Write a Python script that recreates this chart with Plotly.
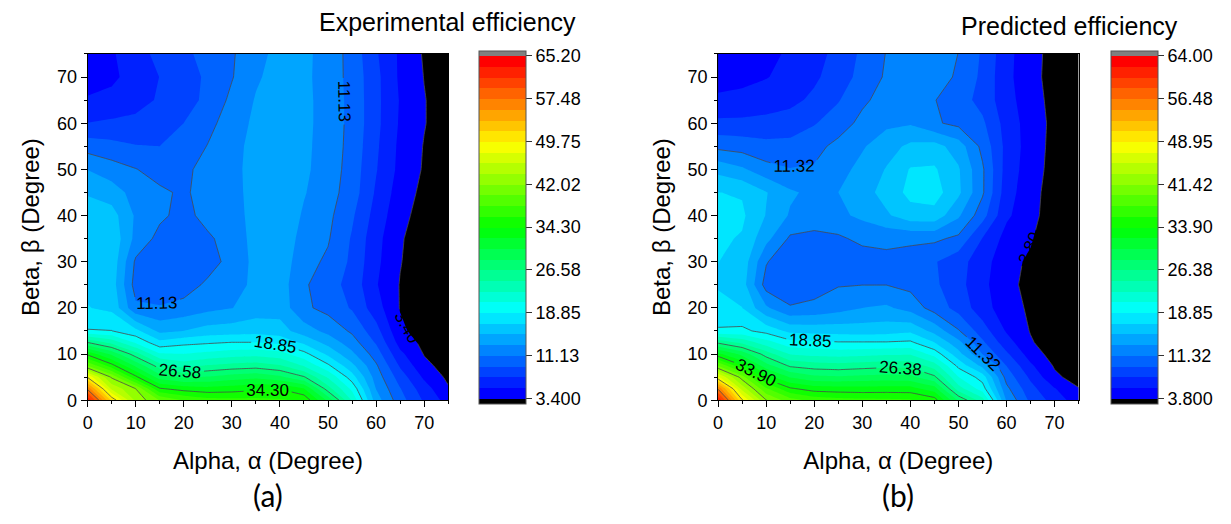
import plotly.graph_objects as go

# ---------------- data ----------------
alpha = [0, 5, 10, 15, 20, 25, 30, 35, 40, 45, 50, 55, 60, 65, 70, 75]
beta = [0, 2.5, 5, 7.5, 10, 12.5, 15, 20, 25, 30, 35, 40, 45, 50, 55, 60, 65, 70, 75]

# rows follow beta, columns follow alpha
experimental = [
    [63.0, 51.2, 43.5, 40.0, 38.0, 37.0, 36.8, 36.8, 36.5, 35.8, 30.0, 22.5, 14.0, 10.0, 7.0, 4.5],
    [57.0, 45.5, 42.0, 34.5, 33.5, 33.0, 33.3, 33.8, 34.2, 32.5, 25.5, 20.3, 13.0, 9.3, 6.2, 3.6],
    [49.5, 41.7, 34.8, 29.5, 28.2, 28.7, 29.5, 30.0, 29.0, 26.8, 22.5, 17.8, 12.2, 8.3, 5.0, 3.0],
    [40.0, 35.0, 30.0, 25.5, 23.8, 24.8, 25.3, 25.6, 24.8, 22.5, 19.2, 15.5, 11.4, 7.0, 3.9, 2.6],
    [33.8, 30.0, 25.5, 21.0, 20.8, 21.3, 21.8, 22.0, 21.5, 19.5, 16.5, 13.5, 10.2, 5.8, 3.3, 2.3],
    [26.6, 24.0, 20.5, 17.5, 18.3, 18.6, 18.9, 18.9, 18.4, 16.5, 14.3, 12.0, 9.0, 4.6, 2.9, 2.1],
    [19.0, 18.9, 17.5, 14.5, 15.0, 15.8, 16.0, 16.2, 15.8, 14.0, 12.5, 10.8, 8.0, 3.8, 2.5, 2.0],
    [17.0, 16.5, 11.5, 11.3, 11.8, 12.5, 13.0, 14.0, 14.2, 11.5, 10.5, 9.0, 6.2, 3.3, 2.0, 1.8],
    [16.5, 16.0, 10.3, 9.8, 10.2, 11.5, 12.3, 13.5, 14.0, 11.4, 10.0, 8.5, 5.5, 3.3, 2.0, 1.7],
    [16.5, 16.3, 10.8, 9.7, 9.8, 10.3, 11.8, 13.6, 14.3, 11.8, 10.8, 8.8, 5.8, 3.5, 2.2, 1.7],
    [16.5, 16.5, 12.5, 10.5, 10.0, 10.8, 12.0, 13.7, 14.5, 12.3, 11.3, 9.0, 6.0, 3.6, 2.4, 1.8],
    [16.0, 15.8, 12.8, 11.5, 10.5, 11.8, 12.2, 13.8, 14.6, 12.8, 11.6, 9.5, 6.5, 4.0, 2.6, 1.9],
    [14.8, 14.0, 12.3, 11.5, 10.8, 12.0, 12.3, 13.9, 14.6, 13.2, 11.9, 10.2, 7.0, 4.4, 2.9, 2.0],
    [13.0, 12.0, 11.2, 10.3, 10.7, 11.8, 12.4, 13.9, 14.6, 13.4, 12.2, 10.3, 7.4, 4.8, 3.2, 2.1],
    [10.3, 9.8, 9.3, 9.2, 10.0, 11.2, 12.3, 13.8, 14.5, 13.5, 12.2, 10.5, 7.6, 4.9, 3.3, 2.2],
    [7.3, 7.6, 7.8, 8.3, 9.2, 10.6, 12.0, 13.5, 14.3, 13.6, 12.2, 10.6, 7.8, 5.1, 3.5, 2.3],
    [5.5, 5.8, 6.5, 7.5, 8.5, 9.6, 11.6, 13.2, 14.0, 13.6, 12.2, 10.6, 7.8, 5.2, 3.5, 2.3],
    [4.6, 5.0, 6.0, 7.3, 8.4, 9.5, 11.0, 12.8, 13.8, 13.5, 12.2, 10.5, 7.8, 5.0, 3.35, 2.2],
    [4.3, 5.1, 6.5, 7.8, 8.8, 9.8, 10.9, 12.5, 13.6, 13.5, 12.3, 10.4, 7.5, 5.0, 3.2, 2.0],
]

predicted = [
    [62.0, 49.2, 41.5, 38.5, 37.0, 36.5, 36.3, 36.2, 36.0, 34.8, 28.0, 23.5, 13.0, 9.0, 6.8, 4.6],
    [56.2, 44.5, 38.0, 34.2, 33.0, 32.8, 32.7, 32.8, 32.8, 31.0, 23.5, 19.8, 11.8, 8.2, 5.8, 3.9],
    [47.5, 40.5, 33.0, 30.0, 28.7, 28.5, 28.8, 29.0, 28.8, 26.8, 20.8, 18.0, 10.6, 7.2, 4.2, 3.0],
    [39.5, 34.0, 29.0, 26.0, 25.4, 25.2, 25.5, 25.8, 25.8, 23.5, 18.3, 14.5, 9.4, 6.0, 3.6, 2.7],
    [32.5, 29.5, 25.5, 22.5, 22.0, 21.8, 22.0, 22.3, 22.4, 20.0, 15.8, 11.3, 7.9, 4.8, 3.0, 2.3],
    [26.0, 24.0, 21.5, 19.5, 19.3, 19.0, 19.0, 19.0, 19.2, 17.0, 13.8, 9.8, 6.5, 4.0, 2.7, 2.1],
    [19.1, 19.3, 18.2, 16.5, 16.3, 16.2, 16.1, 16.2, 16.6, 14.5, 11.5, 8.5, 5.5, 3.7, 2.5, 2.0],
    [17.5, 17.0, 13.5, 11.5, 11.8, 12.5, 13.2, 13.5, 12.5, 10.5, 8.8, 6.5, 4.6, 3.5, 2.3, 1.8],
    [16.8, 16.0, 10.5, 10.0, 10.5, 11.2, 11.3, 11.3, 10.8, 9.8, 8.2, 6.2, 4.3, 3.3, 2.1, 1.7],
    [17.0, 16.3, 11.5, 9.6, 9.5, 9.8, 10.3, 10.8, 10.5, 9.6, 8.3, 6.5, 4.4, 3.5, 2.1, 1.7],
    [17.3, 16.8, 13.8, 11.0, 10.8, 11.0, 11.8, 11.8, 11.7, 11.7, 10.9, 7.5, 5.0, 4.0, 2.3, 1.8],
    [17.5, 17.3, 15.0, 13.0, 12.3, 12.8, 13.6, 14.8, 16.2, 16.3, 13.5, 10.2, 6.0, 4.5, 2.6, 1.9],
    [17.0, 16.8, 15.2, 13.5, 12.7, 13.2, 14.3, 15.8, 17.5, 17.8, 15.5, 11.6, 6.5, 4.5, 2.9, 2.0],
    [14.5, 13.5, 12.0, 11.4, 11.5, 12.5, 13.8, 15.2, 17.1, 17.2, 15.3, 11.6, 6.8, 4.7, 3.1, 2.1],
    [10.8, 10.5, 10.0, 10.0, 10.8, 11.8, 13.0, 14.3, 15.5, 15.8, 14.2, 10.8, 7.0, 4.8, 3.2, 2.2],
    [8.0, 8.0, 8.2, 8.5, 9.3, 10.5, 11.8, 12.8, 13.0, 11.6, 10.8, 9.8, 6.8, 4.8, 3.3, 2.2],
    [6.0, 6.2, 6.5, 7.0, 8.0, 9.3, 11.0, 12.0, 12.0, 11.4, 10.3, 8.8, 6.4, 4.6, 3.2, 2.2],
    [5.0, 5.2, 5.6, 6.2, 7.2, 8.6, 10.0, 11.6, 12.2, 12.0, 11.1, 9.0, 6.2, 4.4, 3.1, 2.1],
    [4.6, 4.9, 5.3, 5.9, 6.8, 8.2, 9.8, 11.4, 12.3, 12.2, 11.3, 9.2, 6.3, 4.4, 3.2, 2.2],
]

exp_range = [3.4, 65.2]
exp_tickvals = [3.4, 11.125, 18.85, 26.575, 34.3, 42.025, 49.75, 57.475, 65.2]
exp_ticktext = ["3.400", "11.13", "18.85", "26.58", "34.30", "42.02", "49.75", "57.48", "65.20"]

pred_range = [3.8, 64.0]
pred_tickvals = [3.8, 11.325, 18.85, 26.375, 33.9, 41.425, 48.95, 56.475, 64.0]
pred_ticktext = ["3.800", "11.32", "18.85", "26.38", "33.90", "41.42", "48.95", "56.48", "64.00"]

# ---------------- style ----------------
W, H = 1231, 524
N_BANDS = 32
FONT = "Liberation Sans"


def rainbow(p):
    stops = [(0.0, (0, 0, 255)), (0.25, (0, 255, 255)), (0.5, (0, 255, 0)),
             (0.75, (255, 255, 0)), (1.0, (255, 0, 0))]
    for i in range(len(stops) - 1):
        p0, c0 = stops[i]
        p1, c1 = stops[i + 1]
        if p <= p1 + 1e-12:
            t = (p - p0) / (p1 - p0)
            return "rgb(%d,%d,%d)" % tuple(round(c0[j] + (c1[j] - c0[j]) * t) for j in range(3))
    return "rgb(255,0,0)"


def band_scale(nb):
    n = nb + 1
    scale = [[0.0, "rgb(0,0,0)"]]
    for k in range(1, nb + 1):
        scale.append([k / n, rainbow((k - 1) / (nb - 1))])
    scale.append([1.0, "rgb(128,128,128)"])
    return scale


fig = go.Figure()


def add_panel(z, zr, xa, ya, cb_left, tickvals, ticktext):
    minor = (zr[1] - zr[0]) / N_BANDS
    major = minor * 4
    fig.add_trace(go.Contour(
        x=alpha, y=beta, z=z, xaxis=xa, yaxis=ya,
        autocontour=False,
        contours=dict(start=zr[0], end=zr[1], size=minor, coloring="fill", showlines=False),
        line=dict(width=0, smoothing=0),
        colorscale=band_scale(N_BANDS),
        colorbar=dict(
            x=cb_left / W, xanchor="left", xpad=0,
            y=1 - 231.5 / H, yanchor="middle", ypad=0,
            len=353, lenmode="pixels", thickness=47, thicknessmode="pixels",
            outlinewidth=1, outlinecolor="#555555",
            tickmode="array", tickvals=tickvals, ticktext=ticktext,
            ticks="outside", ticklen=6, tickwidth=1, tickcolor="#333333",
            tickfont=dict(family=FONT, size=18, color="black"),
        ),
        hoverinfo="skip",
    ))
    fig.add_trace(go.Contour(
        x=alpha, y=beta, z=z, xaxis=xa, yaxis=ya,
        autocontour=False,
        contours=dict(start=zr[0], end=zr[1], size=major, coloring="none",
                      showlines=True, showlabels=True, labelformat=".2f",
                      labelfont=dict(family=FONT, size=17, color="black")),
        line=dict(color="#4a4a4a", width=0.8, smoothing=0),
        showscale=False, hoverinfo="skip",
    ))


add_panel(experimental, exp_range, "x", "y", 476, exp_tickvals, exp_ticktext)
add_panel(predicted, pred_range, "x2", "y2", 1111, pred_tickvals, pred_ticktext)

axis_common = dict(
    range=[0, 75], tick0=0, dtick=10, ticks="outside", ticklen=6, tickwidth=1,
    tickcolor="black", showline=True, linecolor="black", linewidth=1, mirror=True,
    showgrid=False, zeroline=False, tickfont=dict(family=FONT, size=18, color="black"),
    minor=dict(dtick=5, ticklen=3, ticks="outside", tickcolor="black", tickwidth=1),
)
ydom = [1 - 408 / H, 1 - 55 / H]
xtitle = dict(text="Alpha, α (Degree)", font=dict(family=FONT, size=24, color="black"), standoff=20)
ytitle = dict(text="Beta, β (Degree)", font=dict(family=FONT, size=24, color="black"), standoff=10)

fig.update_layout(
    width=W, height=H, margin=dict(l=0, r=0, t=0, b=0),
    paper_bgcolor="white", plot_bgcolor="white", showlegend=False,
    font=dict(family=FONT, color="black"),
    xaxis=dict(domain=[83 / W, 445 / W], anchor="y", title=xtitle, **axis_common),
    yaxis=dict(domain=ydom, anchor="x", title=ytitle, **axis_common),
    xaxis2=dict(domain=[716 / W, 1078 / W], anchor="y2", title=xtitle, **axis_common),
    yaxis2=dict(domain=ydom, anchor="x2", title=ytitle, **axis_common),
    annotations=[
        dict(text="Experimental efficiency", x=313 / W, y=1 - 22 / H, xref="paper", yref="paper",
             xanchor="left", yanchor="middle", showarrow=False,
             font=dict(family=FONT, size=25, color="black")),
        dict(text="Predicted efficiency", x=958 / W, y=1 - 27 / H, xref="paper", yref="paper",
             xanchor="left", yanchor="middle", showarrow=False,
             font=dict(family=FONT, size=25, color="black")),
        dict(text="(a)", x=264 / W, y=1 - 505 / H, xref="paper", yref="paper",
             xanchor="center", yanchor="middle", showarrow=False,
             font=dict(family="Lato", size=30, color="black")),
        dict(text="(b)", x=897 / W, y=1 - 505 / H, xref="paper", yref="paper",
             xanchor="center", yanchor="middle", showarrow=False,
             font=dict(family="Lato", size=30, color="black")),
    ],
)

fig.write_html("out.html")
